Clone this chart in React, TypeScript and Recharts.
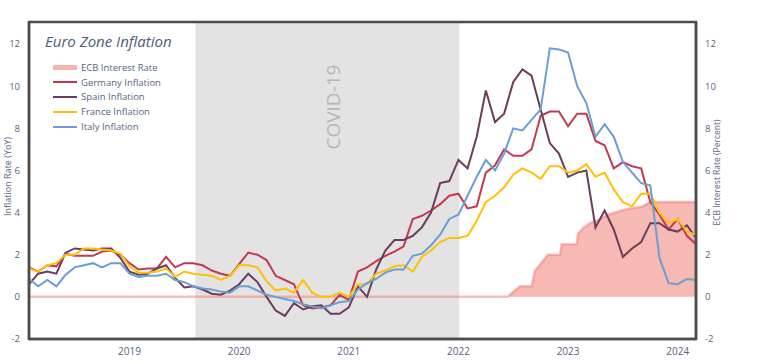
import React from 'react';
import { ComposedChart, Line, Area, XAxis, YAxis, ReferenceArea } from 'recharts';

// Month index: 1 = Jan 2018 ... 74 = Feb 2024
const monthCount = 74;
const yearTicks = [12, 24, 36, 48, 60, 72];
const yearLabels = ['2019', '2020', '2021', '2022', '2023', '2024'];
const yTicks = [-2, 0, 2, 4, 6, 8, 10, 12];

const germany = [
  1.4, 1.2, 1.5, 1.45, 2.05, 1.95, 1.95, 1.95, 2.15, 2.2, 2.0, 1.6,
  1.3, 1.35, 1.35, 1.9, 1.4, 1.6, 1.6, 1.5, 1.25, 1.1, 1.0, 1.55,
  2.1, 2.0, 1.75, 1.0, 0.8, 0.6, -0.4, -0.55, -0.5, -0.4, 0.1, -0.15,
  1.2, 1.4, 1.7, 1.95, 2.15, 2.4, 3.7, 3.85, 4.1, 4.4, 4.8, 4.9,
  4.2, 4.3, 5.9, 6.25, 7.0, 6.7, 6.7, 7.0, 8.6, 8.8, 8.8, 8.1,
  8.7, 8.7, 7.4, 7.2, 6.1, 6.4, 6.2, 6.1, 4.5, 3.9, 3.2, 3.7,
  2.9, 2.5,
];
const spain = [
  0.6, 1.1, 1.2, 1.1, 2.1, 2.3, 2.25, 2.2, 2.3, 2.3, 1.85, 1.2,
  1.05, 1.1, 1.35, 1.5, 0.9, 0.45, 0.5, 0.35, 0.15, 0.1, 0.3, 0.6,
  1.1, 0.7, 0.0, -0.65, -0.9, -0.3, -0.6, -0.45, -0.4, -0.8, -0.8, -0.5,
  0.5, 0.0, 1.3, 2.2, 2.7, 2.7, 2.9, 3.3, 4.0, 5.4, 5.5, 6.5,
  6.1, 7.6, 9.8, 8.3, 8.7, 10.2, 10.8, 10.5, 8.9, 7.3, 6.8, 5.7,
  5.9, 6.0, 3.3, 4.1, 3.2, 1.9, 2.3, 2.6, 3.5, 3.5, 3.2, 3.1,
  3.4, 2.8,
];
const france = [
  1.35, 1.2, 1.5, 1.6, 2.0, 2.0, 2.3, 2.3, 2.25, 2.2, 2.05, 1.45,
  1.15, 1.15, 1.2, 1.35, 0.95, 1.2, 1.1, 1.05, 1.0, 0.8, 1.0, 1.5,
  1.5, 1.4, 0.75, 0.3, 0.4, 0.2, 0.8, 0.2, 0.0, 0.0, 0.2, 0.0,
  0.6, 0.6, 1.1, 1.25, 1.45, 1.5, 1.2, 1.9, 2.2, 2.6, 2.8, 2.8,
  2.9, 3.6, 4.5, 4.8, 5.2, 5.8, 6.1, 5.9, 5.6, 6.2, 6.2, 5.9,
  6.0, 6.3, 5.7, 5.9, 5.1, 4.5, 4.3, 4.9, 4.9, 4.0, 3.5, 3.7,
  3.1, 2.95,
];
const italy = [
  0.85, 0.5, 0.8, 0.5, 1.05, 1.4, 1.5, 1.6, 1.4, 1.6, 1.6, 1.1,
  0.95, 1.0, 1.0, 1.1, 0.8, 0.7, 0.5, 0.4, 0.35, 0.25, 0.2, 0.5,
  0.5, 0.3, 0.1, 0.0, -0.1, -0.2, -0.35, -0.45, -0.55, -0.4, -0.25, -0.2,
  0.35, 0.65, 0.85, 1.15, 1.3, 1.3, 1.95, 2.05, 2.45, 2.95, 3.7, 3.9,
  4.8, 5.7, 6.5, 6.0, 6.8, 8.0, 7.9, 8.4, 8.9, 11.8, 11.75, 11.6,
  10.0, 9.2, 7.6, 8.2, 7.6, 6.4, 5.9, 5.4, 5.3, 1.85, 0.65, 0.6,
  0.85, 0.8,
];

// ECB main refinancing rate (time in the same month index units)
const ecbTime = [1, 53.35, 54.74, 56.02, 56.38, 57.8, 59.11, 59.3, 60.94, 61.09, 61.6, 62.4, 63.3, 64.2, 65.4, 66.7, 68.06, 68.97, 74];
const ecbRate = [0, 0, 0.5, 0.5, 1.25, 2.0, 2.0, 2.5, 2.5, 3.0, 3.25, 3.5, 3.65, 3.88, 4.04, 4.2, 4.28, 4.5, 4.5];

const covidStart = 19.2;
const covidEnd = 48.1;

const seriesNames = ['ECB Interest Rate', 'Germany Inflation', 'Spain Inflation', 'France Inflation', 'Italy Inflation'];
const seriesColors = ['#f7b4ac', '#c33a50', '#6b3d5c', '#ffc107', '#6a9fd3'];

const rows = Array.from({ length: monthCount }, (_, i) => ({
  k: i + 1,
  germany: germany[i],
  spain: spain[i],
  france: france[i],
  italy: italy[i],
}));
const ecbData = ecbTime.map((k, i) => ({ k, ecb: ecbRate[i] }));

const FONT = '"Open Sans", "DejaVu Sans", sans-serif';
const TEXT = '#56647f';
const FRAME = '#4d4d4d';
const Y_DOMAIN: [number, number] = [-2, 13.05];

const CovidLabel = (props: any) => {
  const vb = props.viewBox || {};
  const cx = vb.x + vb.width * 0.523;
  const cy = vb.y + 85;
  return (
    <text
      x={cx}
      y={cy}
      transform={`rotate(-90 ${cx} ${cy})`}
      textAnchor="middle"
      dominantBaseline="central"
      fontFamily={FONT}
      fontSize={19}
      fill="#b3b7be"
    >
      COVID-19
    </text>
  );
};

const LeftTitle = (props: any) => {
  const vb = props.viewBox || {};
  const cx = 7;
  const cy = vb.y + vb.height / 2 - 4;
  return (
    <text x={cx} y={cy} transform={`rotate(-90 ${cx} ${cy})`} textAnchor="middle" dominantBaseline="central" fontFamily={FONT} fontSize={9} fill={TEXT}>
      Inflation Rate (YoY)
    </text>
  );
};

const RightTitle = (props: any) => {
  const vb = props.viewBox || {};
  const cx = 716;
  const cy = vb.y + vb.height / 2 - 8;
  return (
    <text x={cx} y={cy} transform={`rotate(-90 ${cx} ${cy})`} textAnchor="middle" dominantBaseline="central" fontFamily={FONT} fontSize={8.5} fill={TEXT}>
      ECB Interest Rate (Percent)
    </text>
  );
};

const LegendBox = () => (
  <div style={{ position: 'absolute', left: 45, top: 31, fontFamily: FONT, color: TEXT, pointerEvents: 'none' }}>
    <div style={{ fontStyle: 'italic', fontSize: 15, lineHeight: '20px', marginBottom: 9, color: '#4d5b78' }}>Euro Zone Inflation</div>
    {seriesNames.map((name, i) => (
      <div key={name} style={{ display: 'flex', alignItems: 'center', height: 14.8, marginLeft: 8 }}>
        <div style={{ width: 24, height: i === 0 ? 5 : 2, background: seriesColors[i], marginRight: 4 }} />
        <span style={{ fontSize: 9.5, whiteSpace: 'nowrap' }}>{name}</span>
      </div>
    ))}
  </div>
);

export default function App() {
  return (
    <div style={{ position: 'absolute', left: 0, top: 0, width: 758, height: 364, background: '#fff' }}>
      <ComposedChart width={758} height={364} data={rows} margin={{ top: 22, right: 0, bottom: 0, left: 0 }}>
        <XAxis
          dataKey="k"
          type="number"
          domain={[1, monthCount]}
          ticks={yearTicks}
          tickFormatter={(v: number) => yearLabels[yearTicks.indexOf(v)]}
          height={25}
          tickLine={false}
          axisLine={{ stroke: FRAME, strokeWidth: 2.5 }}
          stroke={FRAME}
          tickMargin={3}
          tick={{ fontSize: 10, fill: TEXT, fontFamily: FONT }}
          allowDataOverflow
        />
        <YAxis
          yAxisId="left"
          domain={Y_DOMAIN}
          ticks={yTicks}
          width={29}
          tickLine={false}
          axisLine={{ stroke: FRAME, strokeWidth: 2.5 }}
          stroke={FRAME}
          tickMargin={3}
          tick={{ fontSize: 9.5, fill: TEXT, fontFamily: FONT }}
          allowDataOverflow
          label={<LeftTitle />}
        />
        <YAxis
          yAxisId="right"
          orientation="right"
          domain={Y_DOMAIN}
          ticks={yTicks}
          width={62}
          tickLine={false}
          axisLine={{ stroke: FRAME, strokeWidth: 2.5 }}
          stroke={FRAME}
          tickMargin={3}
          tick={{ fontSize: 9.5, fill: TEXT, fontFamily: FONT, textAnchor: 'start' }}
          allowDataOverflow
          label={<RightTitle />}
        />
        <ReferenceArea yAxisId="left" x1={covidStart} x2={covidEnd} y1={Y_DOMAIN[0]} y2={Y_DOMAIN[1]} fill="#e3e3e3" fillOpacity={1} stroke="none" label={<CovidLabel />} />
        <Line yAxisId="left" dataKey="germany" stroke={seriesColors[1]} strokeWidth={2} dot={false} isAnimationActive={false} />
        <Line yAxisId="left" dataKey="spain" stroke={seriesColors[2]} strokeWidth={2} dot={false} isAnimationActive={false} />
        <Line yAxisId="left" dataKey="france" stroke={seriesColors[3]} strokeWidth={2} dot={false} isAnimationActive={false} />
        <Line yAxisId="left" dataKey="italy" stroke={seriesColors[4]} strokeWidth={2} dot={false} isAnimationActive={false} />
        <Area
          yAxisId="right"
          data={ecbData}
          dataKey="ecb"
          type="linear"
          stroke="#ee7468"
          strokeOpacity={0.45}
          strokeWidth={2.5}
          fill="#ee7468"
          fillOpacity={0.5}
          baseValue={0}
          isAnimationActive={false}
        />
        <ReferenceArea
          yAxisId="left"
          x1={1}
          x2={monthCount}
          y1={Y_DOMAIN[0]}
          y2={Y_DOMAIN[1]}
          fill="#ffffff"
          fillOpacity={0}
          stroke={FRAME}
          strokeWidth={2.5}
          strokeOpacity={1}
          ifOverflow="visible"
        />
      </ComposedChart>
      <LegendBox />
    </div>
  );
}
